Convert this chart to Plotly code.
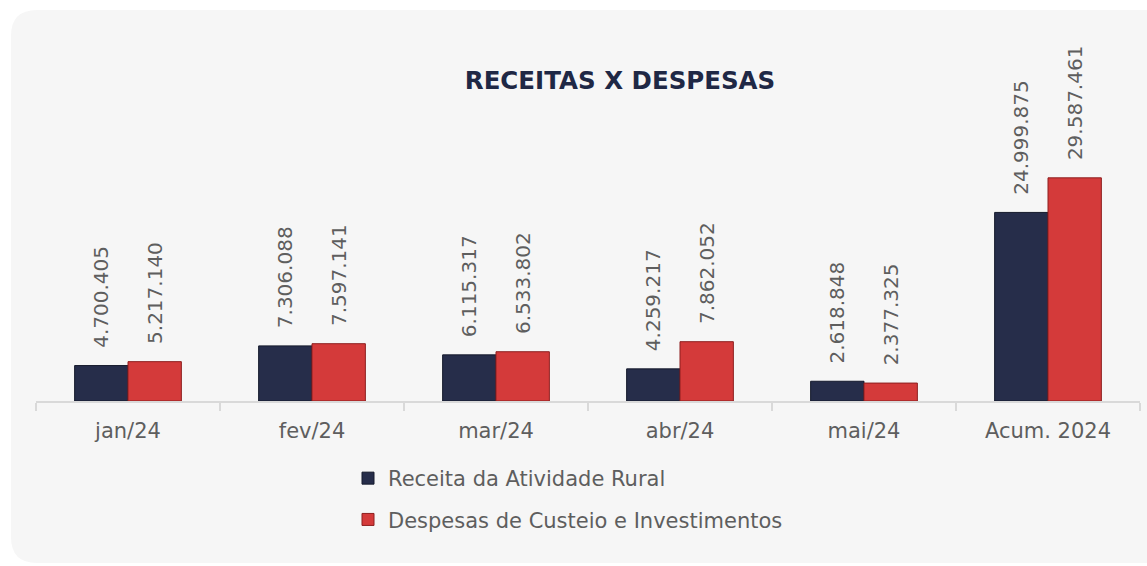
import plotly.graph_objects as go

categories = ["jan/24", "fev/24", "mar/24", "abr/24", "mai/24", "Acum. 2024"]
receita = [4700405, 7306088, 6115317, 4259217, 2618848, 24999875]
despesas = [5217140, 7597141, 6533802, 7862052, 2377325, 29587461]
series_names = ["Receita da Atividade Rural", "Despesas de Custeio e Investimentos"]
title_text = "RECEITAS X DESPESAS"

W, H = 1147, 566
L, R, T, B = 36, 1140, 137, 401
PW, PH = R - L, B - T

def px(x):
    return (x - L) / PW

def py(y):
    return (B - y) / PH

def fmt(v):
    return "\u00a0\u00a0\u200a" + f"{v:,}".replace(",", ".")

FONT = "DejaVu Sans, sans-serif"
GRAY = "#5e5e5e"
NAVY = "#262d4a"
RED = "#d43a3a"

fig = go.Figure()
fig.add_trace(go.Bar(
    x=categories, y=receita, name=series_names[0], legendgroup="a",
    marker=dict(color=NAVY, line=dict(color="#151a2c", width=1)),
    text=[fmt(v) for v in receita], textposition="outside", textangle=-90,
    constraintext="none", cliponaxis=False,
    textfont=dict(family=FONT, size=20, color=GRAY),
))
fig.add_trace(go.Bar(
    x=categories, y=despesas, name=series_names[1], legendgroup="b",
    marker=dict(color=RED, line=dict(color="#8e1f1f", width=1)),
    text=[fmt(v) for v in despesas], textposition="outside", textangle=-90,
    constraintext="none", cliponaxis=False,
    textfont=dict(family=FONT, size=20, color=GRAY),
))

# rounded card background
x0, y0, x1, y1, r = 11, 10, 1170, 563, 26
path = (
    f"M {px(x0 + r)},{py(y0)} L {px(x1)},{py(y0)} L {px(x1)},{py(y1)} "
    f"L {px(x0 + r)},{py(y1)} Q {px(x0)},{py(y1)} {px(x0)},{py(y1 - r)} "
    f"L {px(x0)},{py(y0 + r)} Q {px(x0)},{py(y0)} {px(x0 + r)},{py(y0)} Z"
)
fig.add_shape(type="path", path=path, xref="paper", yref="paper",
              fillcolor="#f6f6f6", line=dict(width=0), layer="below")

fig.update_layout(
    width=W, height=H,
    margin=dict(l=L, r=W - R, t=T, b=H - B),
    paper_bgcolor="white", plot_bgcolor="rgba(0,0,0,0)",
    barmode="group", bargap=0.42, bargroupgap=0.0,
    title=dict(text=f"<b>{title_text}</b>", x=px(620), xref="paper", xanchor="center",
               y=1 - 80 / H, yref="container", yanchor="middle",
               font=dict(family=FONT, size=24.5, color="#1f2845")),
    showlegend=True,
    legend=dict(orientation="v", x=px(348), xanchor="left", y=py(458), yanchor="top",
                font=dict(family=FONT, size=21, color=GRAY),
                tracegroupgap=11, bgcolor="rgba(0,0,0,0)", itemwidth=30),
    xaxis=dict(showline=True, linecolor="#d9d9d9", linewidth=2,
               ticks="outside", tickson="boundaries", ticklen=8, tickcolor="#d9d9d9", tickwidth=2,
               tickfont=dict(family=FONT, size=21, color=GRAY), ticklabelstandoff=10,
               showgrid=False, zeroline=False, fixedrange=True),
    yaxis=dict(range=[0, 35000000], visible=False, showgrid=False, zeroline=False, fixedrange=True),
    font=dict(family=FONT),
)

fig.write_html("out.html")
